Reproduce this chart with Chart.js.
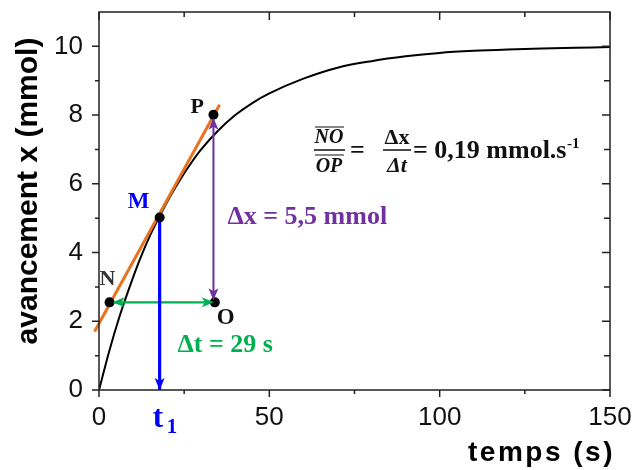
<!DOCTYPE html>
<html>
<head>
<meta charset="utf-8">
<script src="https://cdn.jsdelivr.net/npm/chart.js@4.4.1/dist/chart.umd.min.js"></script>
<style>
  html, body { margin: 0; padding: 0; background: #fff; }
</style>
</head>
<body>
<canvas id="chart" width="635" height="470"></canvas>
<script>
// courbe x(t) (s, mmol)
const CURVE_T = [0, 3, 6, 9, 12, 15, 18, 21, 24, 27, 30, 35, 40, 45, 50, 60, 70, 80, 90, 100, 110, 120, 130, 140, 150];
const CURVE_X = [0, 1.13, 2.13, 3.0, 3.8, 4.5, 5.1, 5.65, 6.15, 6.6, 7.0, 7.55, 8.0, 8.35, 8.63, 9.06, 9.38, 9.57, 9.71, 9.81, 9.87, 9.91, 9.94, 9.96, 9.98];

// tangente en M
const TANGENT_T = [-1.3, 35.4];
const TANGENT_X = [1.70, 8.30];

// points N, M, P, O
const POINT_NAMES = ["N", "M", "P", "O"];
const POINT_T = [3.1, 17.8, 33.6, 34.0];
const POINT_X = [2.55, 5.02, 8.01, 2.55];

// graduations
const X_TICKS = [0, 50, 100, 150];
const Y_TICKS = [0, 2, 4, 6, 8, 10];
const X_MINOR = [25, 75, 125];
const Y_MINOR = [1, 3, 5, 7, 9];

const BLUE = "#0000ff", PURPLE = "#7030a0", GREEN = "#00b050", ORANGE = "#e8731f";
const SANS = "'Liberation Sans', Arial, sans-serif";
const SERIF = "'Liberation Serif', 'Times New Roman', serif";

const pt = {};
POINT_NAMES.forEach((n, i) => pt[n] = { x: POINT_T[i], y: POINT_X[i] });

function pairs(ts, xs) {
  return ts.map((t, i) => ({ x: t, y: xs[i] }));
}

function head(ctx, x1, y1, x2, y2, color) {
  const a = Math.atan2(y2 - y1, x2 - x1);
  ctx.save();
  ctx.translate(x2, y2);
  ctx.rotate(a);
  ctx.beginPath();
  ctx.moveTo(0, 0);
  ctx.lineTo(-12, -5);
  ctx.lineTo(-9, 0);
  ctx.lineTo(-12, 5);
  ctx.closePath();
  ctx.fillStyle = color;
  ctx.fill();
  ctx.restore();
}

function text(ctx, s, x, y, font, color, align) {
  ctx.font = font;
  ctx.fillStyle = color;
  ctx.textAlign = align || "left";
  ctx.textBaseline = "alphabetic";
  ctx.fillText(s, x, y);
}

const decor = {
  id: "decor",
  afterDatasetsDraw(chart) {
    const { ctx, scales: { x, y } } = chart;
    const px = p => ({ x: x.getPixelForValue(p.x), y: y.getPixelForValue(p.y) });
    const N = px(pt.N), M = px(pt.M), P = px(pt.P), O = px(pt.O);
    const M0 = { x: M.x, y: y.getPixelForValue(0) };
    const PO = { x: P.x, y: O.y };
    // pointes de flèches
    head(ctx, M.x, M.y, M0.x, M0.y, BLUE);
    head(ctx, PO.x, PO.y, P.x, P.y + 3, PURPLE);
    head(ctx, P.x, P.y, PO.x, PO.y - 2, PURPLE);
    head(ctx, O.x, O.y, N.x + 3, N.y, GREEN);
    head(ctx, N.x, N.y, O.x - 1, O.y, GREEN);
  },
  afterDraw(chart) {
    const { ctx, chartArea: a, scales: { x, y } } = chart;
    ctx.save();
    // cadre
    ctx.strokeStyle = "#222";
    ctx.lineWidth = 1.5;
    ctx.strokeRect(a.left, a.top, a.right - a.left, a.bottom - a.top);
    // graduations
    ctx.beginPath();
    X_TICKS.forEach(v => { const p = x.getPixelForValue(v); ctx.moveTo(p, a.bottom); ctx.lineTo(p, a.bottom + 7); ctx.moveTo(p, a.top); ctx.lineTo(p, a.top + 8); });
    X_MINOR.forEach(v => { const p = x.getPixelForValue(v); ctx.moveTo(p, a.bottom); ctx.lineTo(p, a.bottom + 4); ctx.moveTo(p, a.top); ctx.lineTo(p, a.top + 5); });
    Y_TICKS.forEach(v => { const p = y.getPixelForValue(v); ctx.moveTo(a.left, p); ctx.lineTo(a.left - 7, p); ctx.moveTo(a.right, p); ctx.lineTo(a.right - 8, p); });
    Y_MINOR.forEach(v => { const p = y.getPixelForValue(v); ctx.moveTo(a.left, p); ctx.lineTo(a.left - 4, p); ctx.moveTo(a.right, p); ctx.lineTo(a.right - 6, p); });
    ctx.stroke();

    // titres des axes
    ctx.save();
    ctx.translate(37, (a.top + a.bottom) / 2 - 10);
    ctx.rotate(-Math.PI / 2);
    text(ctx, "avancement x (mmol)", 0, 0, "bold 30px " + SANS, "#000", "center");
    ctx.restore();
    ctx.letterSpacing = "2.5px";
    text(ctx, "temps (s)", 468, 461, "bold 28px " + SANS, "#000");
    ctx.letterSpacing = "0px";

    // étiquettes des points
    const px = p => ({ x: x.getPixelForValue(p.x), y: y.getPixelForValue(p.y) });
    const N = px(pt.N), M = px(pt.M), P = px(pt.P), O = px(pt.O);
    text(ctx, "M", M.x - 32, M.y - 9, "bold 23px " + SERIF, BLUE);
    text(ctx, "N", N.x - 10, N.y - 17, "bold 22px " + SERIF, "#333");
    text(ctx, "P", P.x - 23, P.y - 2, "bold 22px " + SERIF, "#111");
    text(ctx, "O", O.x + 2, O.y + 22, "bold 23px " + SERIF, "#111");
    text(ctx, "\u0394x = 5,5 mmol", P.x + 14, (P.y + O.y) / 2 + 15, "bold 26px " + SERIF, PURPLE);
    text(ctx, "\u0394t = 29 s", N.x + 68, O.y + 50, "bold 26px " + SERIF, GREEN);
    text(ctx, "t", M.x - 7, a.bottom + 37, "bold 31px " + SERIF, BLUE);
    text(ctx, "1", M.x + 7, a.bottom + 43, "bold 21px " + SERIF, BLUE);

    // relation NO/OP = Δx/Δt
    const f = "bold 26px " + SERIF;
    text(ctx, "NO", 329, 143, "italic bold 20px " + SERIF, "#111", "center");
    text(ctx, "OP", 329, 172, "italic bold 20px " + SERIF, "#111", "center");
    ctx.strokeStyle = "#111";
    ctx.lineWidth = 1.2;
    ctx.beginPath();
    ctx.moveTo(315, 127); ctx.lineTo(344, 127);
    ctx.moveTo(315, 155); ctx.lineTo(344, 155);
    ctx.stroke();
    ctx.lineWidth = 1.6;
    ctx.beginPath();
    ctx.moveTo(314, 150); ctx.lineTo(345, 150);
    ctx.moveTo(383, 150); ctx.lineTo(411, 150);
    ctx.stroke();
    text(ctx, "=", 350, 158, f, "#111");
    text(ctx, "\u0394x", 397, 144, "bold 22px " + SERIF, "#111", "center");
    text(ctx, "\u0394t", 397, 172, "italic bold 22px " + SERIF, "#111", "center");
    text(ctx, "= 0,19 mmol.s", 413, 158, f, "#111");
    text(ctx, "-1", 567, 148, "bold 15px " + SERIF, "#111");
    ctx.restore();
  }
};

const axisFont = { family: SANS, size: 26 };

new Chart(document.getElementById("chart"), {
  type: "line",
  data: {
    datasets: [
      {
        data: pairs(POINT_T, POINT_X), showLine: false,
        pointRadius: 5, pointBackgroundColor: "#000", pointBorderWidth: 0, order: 0
      },
      {
        data: [pt.M, { x: pt.M.x, y: 0 }],
        borderColor: BLUE, borderWidth: 3.2, pointRadius: 0, order: 1
      },
      {
        data: [pt.P, { x: pt.P.x, y: pt.O.y }],
        borderColor: PURPLE, borderWidth: 2, pointRadius: 0, order: 1
      },
      {
        data: [pt.N, pt.O],
        borderColor: GREEN, borderWidth: 2.4, pointRadius: 0, order: 1
      },
      {
        data: pairs(TANGENT_T, TANGENT_X),
        borderColor: ORANGE, borderWidth: 3, pointRadius: 0, clip: false, order: 2
      },
      {
        data: pairs(CURVE_T, CURVE_X),
        borderColor: "#000", borderWidth: 2, pointRadius: 0,
        cubicInterpolationMode: "monotone", order: 3
      }
    ]
  },
  options: {
    responsive: false,
    animation: false,
    devicePixelRatio: 1,
    layout: { padding: { top: 12, right: 25, left: 0, bottom: 0 } },
    plugins: { legend: { display: false }, tooltip: { enabled: false } },
    scales: {
      x: {
        type: "linear", min: 0, max: 150,
        afterBuildTicks: s => { s.ticks = X_TICKS.map(v => ({ value: v })); },
        afterFit: s => { s.height = 80; s.paddingLeft = 0; s.paddingRight = 0; },
        grid: { display: false, drawTicks: false },
        border: { display: false },
        ticks: { font: axisFont, color: "#111", padding: 12, maxRotation: 0, autoSkip: false }
      },
      y: {
        type: "linear", min: 0, max: 11,
        afterBuildTicks: s => { s.ticks = Y_TICKS.map(v => ({ value: v })); },
        afterFit: s => { s.width = 99; s.paddingTop = 0; s.paddingBottom = 0; },
        grid: { display: false, drawTicks: false },
        border: { display: false },
        ticks: { font: axisFont, color: "#111", padding: 16 }
      }
    }
  },
  plugins: [decor]
});
</script>
</body>
</html>
